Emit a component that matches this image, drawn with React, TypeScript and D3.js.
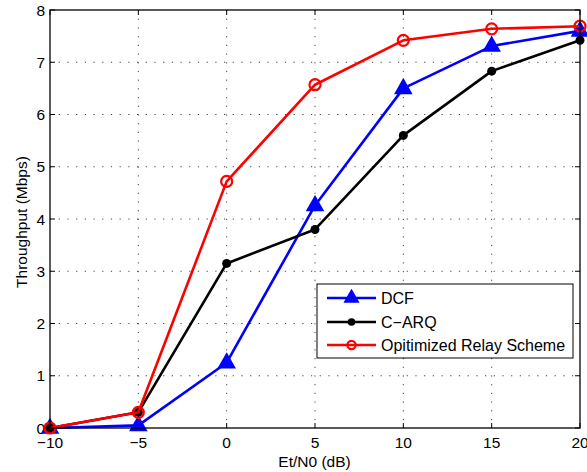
import React from "react";
import * as d3 from "d3";

const xValues = [-10, -5, 0, 5, 10, 15, 20];
const dcf = [0, 0.05, 1.25, 4.26, 6.5, 7.31, 7.6];
const carq = [0, 0.3, 3.15, 3.8, 5.6, 6.83, 7.42];
const optimized = [0, 0.3, 4.72, 6.57, 7.42, 7.64, 7.69];
const xTicks = [-10, -5, 0, 5, 10, 15, 20];
const yTicks = [0, 1, 2, 3, 4, 5, 6, 7, 8];
const seriesNames = ["DCF", "C\u2212ARQ", "Opitimized Relay Scheme"];

const W = 587, H = 472;
const L = 50, R = 580, T = 10, B = 428;

export default function App() {
  const x = d3.scaleLinear().domain([-10, 20]).range([L, R]);
  const y = d3.scaleLinear().domain([0, 8]).range([B, T]);
  const line = d3.line<number>().x((_, i) => x(xValues[i])).y((d) => y(d));
  const font = "Liberation Sans, Arial, Helvetica, sans-serif";
  const fmt = (v: number) => (v < 0 ? "\u2212" + Math.abs(v) : String(v));
  const fs = 15.5;

  const tri = (cx: number, cy: number, s: number) =>
    `M${cx},${cy - s} L${cx + s},${cy + s * 0.75} L${cx - s},${cy + s * 0.75} Z`;

  const series = [
    { name: seriesNames[0], data: dcf, color: "#0000ff", marker: "tri" },
    { name: seriesNames[1], data: carq, color: "#000000", marker: "dot" },
    { name: seriesNames[2], data: optimized, color: "#ff0000", marker: "circ" },
  ];

  const marker = (m: string, cx: number, cy: number, color: string, key: any, scale = 1) => {
    if (m === "tri")
      return <path key={key} d={tri(cx, cy - 1, 8 * scale)} fill={color} stroke={color} strokeWidth={1.5} />;
    if (m === "dot") return <circle key={key} cx={cx} cy={cy} r={4.5 * scale} fill={color} />;
    return <circle key={key} cx={cx} cy={cy} r={5.5 * scale} fill="none" stroke={color} strokeWidth={2.2} />;
  };

  const legX = 317, legY = 284, legW = 256, legH = 74;
  const rows = [298, 322, 345];

  return (
    <svg width={W} height={H} style={{ display: "block", position: "absolute", left: 0, top: 0, background: "#fff" }}>
      <rect x={0} y={0} width={W} height={H} fill="#fff" />
      {/* grid */}
      {xTicks.slice(1, -1).map((t) => (
        <line key={"gx" + t} x1={x(t)} x2={x(t)} y1={T} y2={B} stroke="#444" strokeWidth={1} strokeDasharray="1.2,7.5" />
      ))}
      {yTicks.slice(1, -1).map((t) => (
        <line key={"gy" + t} x1={L} x2={R} y1={y(t)} y2={y(t)} stroke="#444" strokeWidth={1} strokeDasharray="1.2,7.5" />
      ))}
      {/* ticks */}
      {xTicks.map((t) => (
        <g key={"tx" + t}>
          <line x1={x(t)} x2={x(t)} y1={B} y2={B - 5} stroke="#000" />
          <line x1={x(t)} x2={x(t)} y1={T} y2={T + 5} stroke="#000" />
          <text x={x(t)} y={B + 20} textAnchor="middle" fontFamily={font} fontSize={fs} fill="#000">
            {fmt(t)}
          </text>
        </g>
      ))}
      {yTicks.map((t) => (
        <g key={"ty" + t}>
          <line x1={L} x2={L + 5} y1={y(t)} y2={y(t)} stroke="#000" />
          <line x1={R} x2={R - 5} y1={y(t)} y2={y(t)} stroke="#000" />
          <text x={L - 5} y={y(t) + 5.5} textAnchor="end" fontFamily={font} fontSize={fs} fill="#000">
            {fmt(t)}
          </text>
        </g>
      ))}
      {/* series */}
      {series.map((s) => (
        <g key={s.name}>
          <path d={line(s.data) || ""} fill="none" stroke={s.color} strokeWidth={2.6} strokeLinejoin="round" />
          {s.data.map((v, i) => marker(s.marker, x(xValues[i]), y(v), s.color, s.name + i))}
        </g>
      ))}
      {/* axes box */}
      <rect x={L} y={T} width={R - L} height={B - T} fill="none" stroke="#000" strokeWidth={1.3} />
      {/* labels */}
      <text x={(L + R) / 2 - 0.5} y={467} textAnchor="middle" fontFamily={font} fontSize={fs} fill="#000">
        Et/N0 (dB)
      </text>
      <text
        transform={`translate(27,${(T + B) / 2 + 3}) rotate(-90)`}
        textAnchor="middle"
        fontFamily={font}
        fontSize={fs}
        fill="#000"
      >
        Throughput (Mbps)
      </text>
      {/* legend */}
      <rect x={legX} y={legY} width={legW} height={legH} fill="#fff" stroke="#000" strokeWidth={1} />
      {series.map((s, i) => (
        <g key={"lg" + i}>
          <line x1={327} x2={376} y1={rows[i]} y2={rows[i]} stroke={s.color} strokeWidth={2.6} />
          {marker(s.marker, 351.5, rows[i], s.color, "lm" + i, s.marker === "circ" ? 0.75 : 0.85)}
          <text x={381} y={rows[i] + 5.5} fontFamily={font} fontSize={16} fill="#000">
            {s.name}
          </text>
        </g>
      ))}
    </svg>
  );
}
